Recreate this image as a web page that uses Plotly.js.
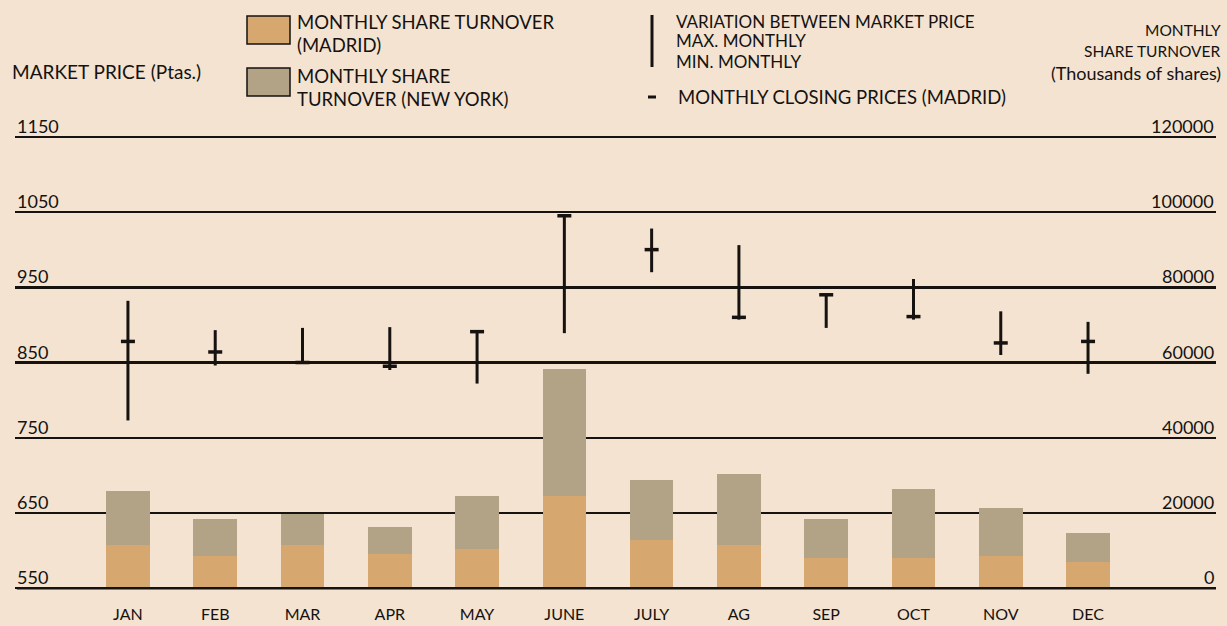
<!DOCTYPE html>
<html>
<head>
<meta charset="utf-8">
<script src="https://cdn.plot.ly/plotly-3.0.1.min.js"></script>
<style>
html,body{margin:0;padding:0;background:#F3E3D0;}
#chart{width:1227px;height:626px;}
</style>
</head>
<body>
<div id="chart"></div>
<script>
// ---- data ----
const months = ["JAN","FEB","MAR","APR","MAY","JUNE","JULY","AG","SEP","OCT","NOV","DEC"];
const turnoverMadrid = [11400, 8600, 11500, 9100, 10300, 24400, 12900, 11400, 8000, 8000, 8500, 7000];
const turnoverNewYork = [14500, 9800, 8300, 7200, 14200, 33800, 16000, 18900, 10400, 18300, 12900, 7800];
const priceMax = [932, 893, 896, 897, 893, 1046, 1028, 1006, 940, 961, 918, 904];
const priceMin = [773, 846, 848, 840, 822, 889, 970, 907, 896, 907, 860, 835];
const priceClose = [878, 864, 850, 845, 891, 1045, 1000, 910, 940, 911, 876, 878];
const priceTicks = [550, 650, 750, 850, 950, 1050, 1150];
const turnoverTicks = [0, 20000, 40000, 60000, 80000, 100000, 120000];

// ---- styling / geometry ----
const BG = "#F3E3D0";
const C_MAD = "#D6A870";
const C_NY = "#B3A386";
const INK = "#151210";
const FONT = "Lato, 'Open Sans', sans-serif";
const W = 1227, H = 626;
const M = {l: 15, r: 11, t: 133, b: 34};
const PW = W - M.l - M.r, PH = H - M.t - M.b;
const px = x => (x - M.l) / PW;
const py = y => 1 - (y - M.t) / PH;
const yRange = [545, 1155];
const ratio = 200; // 100 ptas <-> 20000 shares
const y2Range = yRange.map(v => (v - 550) * ratio);

const xIdx = months.map((m, i) => i);

// price range segments
const segX = [], segY = [];
months.forEach((m, i) => { segX.push(i, i, null); segY.push(priceMin[i], priceMax[i], null); });

const traces = [
  {type: "bar", x: xIdx, y: turnoverMadrid, yaxis: "y2", marker: {color: C_MAD}, width: 0.5, name: "MONTHLY SHARE TURNOVER (MADRID)", hoverinfo: "y"},
  {type: "bar", x: xIdx, y: turnoverNewYork, yaxis: "y2", marker: {color: C_NY}, width: 0.5, name: "MONTHLY SHARE TURNOVER (NEW YORK)", hoverinfo: "y"},
  {type: "scatter", mode: "lines", x: segX, y: segY, yaxis: "y", line: {color: INK, width: 3}, name: "VARIATION", hoverinfo: "skip"},
  {type: "scatter", mode: "markers", x: xIdx, y: priceClose, yaxis: "y", marker: {symbol: "line-ew", size: 10, color: INK, line: {color: INK, width: 3.5}}, name: "CLOSING", hoverinfo: "y"}
];

const annotations = [];
priceTicks.forEach(v => annotations.push({xref: "paper", yref: "y", x: 0, y: v, xanchor: "left", yanchor: "bottom", yshift: -2, text: String(v), showarrow: false, font: {family: FONT, size: 18, color: INK}}));
turnoverTicks.forEach(v => annotations.push({xref: "paper", yref: "y2", x: 1, y: v, xanchor: "right", yanchor: "bottom", yshift: -2, text: String(v), showarrow: false, font: {family: FONT, size: 18, color: INK}}));

function label(text, x, y, anchor, size) {
  annotations.push({xref: "paper", yref: "paper", x: px(x), y: py(y), xanchor: anchor, yanchor: "middle", text: text, showarrow: false, font: {family: FONT, size: size, color: INK}});
}
label("MARKET PRICE (Ptas.)", 10, 72, "left", 19);
label("MONTHLY SHARE TURNOVER", 295, 22, "left", 18.5);
label("(MADRID)", 295, 45, "left", 18.5);
label("MONTHLY SHARE", 295, 76, "left", 18.5);
label("TURNOVER (NEW YORK)", 295, 99, "left", 18.5);
label("VARIATION BETWEEN MARKET PRICE", 674, 21, "left", 17);
label("MAX. MONTHLY", 674, 41, "left", 17);
label("MIN. MONTHLY", 674, 61, "left", 17);
label("MONTHLY CLOSING PRICES (MADRID)", 676, 97, "left", 18.5);
label("MONTHLY", 1223, 30, "right", 15.5);
label("SHARE TURNOVER", 1223, 51, "right", 15.5);
label("(Thousands of shares)", 1223, 73, "right", 18);

const shapes = [
  {type: "rect", xref: "paper", yref: "paper", x0: px(247), x1: px(290), y0: py(16), y1: py(44), fillcolor: C_MAD, line: {color: INK, width: 1.5}},
  {type: "rect", xref: "paper", yref: "paper", x0: px(247), x1: px(290), y0: py(68), y1: py(96), fillcolor: C_NY, line: {color: INK, width: 1.5}},
  {type: "line", xref: "paper", yref: "paper", x0: px(652), x1: px(652), y0: py(15), y1: py(67), line: {color: INK, width: 3}},
  {type: "line", xref: "paper", yref: "paper", x0: px(648), x1: px(656), y0: py(97), y1: py(97), line: {color: INK, width: 3}},
  {type: "line", xref: "paper", yref: "y", x0: 0.0015, x1: 1, y0: priceTicks[0], y1: priceTicks[0], layer: "above", line: {color: INK, width: 2.5}}
];

const layout = {
  width: W, height: H,
  paper_bgcolor: BG, plot_bgcolor: BG,
  margin: M,
  showlegend: false,
  barmode: "stack",
  font: {family: FONT, color: INK},
  xaxis: {
    range: [-1.294, 12.466], tickmode: "array", tickvals: xIdx, ticktext: months,
    showgrid: false, zeroline: false, showline: false, ticks: "",
    tickfont: {family: FONT, size: 16, color: INK}, ticklabelstandoff: 11
  },
  yaxis: {
    range: yRange, tickmode: "array", tickvals: priceTicks, showticklabels: false,
    showgrid: true, gridcolor: INK, gridwidth: 2.5, zeroline: false, showline: false, ticks: ""
  },
  yaxis2: {
    range: y2Range, overlaying: "y", side: "right", tickmode: "array", tickvals: turnoverTicks,
    showticklabels: false, showgrid: false, zeroline: false, showline: false, ticks: ""
  },
  annotations: annotations,
  shapes: shapes
};

Plotly.newPlot("chart", traces, layout, {displayModeBar: false, staticPlot: true});
</script>
</body>
</html>
